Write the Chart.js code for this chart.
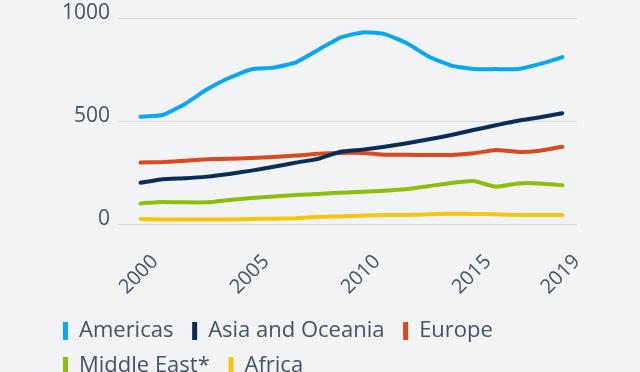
<!DOCTYPE html>
<html>
<head>
<meta charset="utf-8">
<script src="https://cdn.jsdelivr.net/npm/chart.js@4"></script>
<style>
  html, body { margin: 0; padding: 0; background: #f1f3f5; overflow: hidden; }
  #wrap { position: relative; width: 640px; height: 387px; }
</style>
</head>
<body>
<div id="wrap"><canvas id="c"></canvas></div>
<script>
const years = [2000,2001,2002,2003,2004,2005,2006,2007,2008,2009,2010,2011,2012,2013,2014,2015,2016,2017,2018,2019];
const americas = [521,529,583,654,710,751,759,785,845,905,930,922,877,812,769,752,752,752,777,810];
const asiaOceania = [200,217,222,230,243,259,278,298,316,351,361,375,392,411,432,456,479,501,518,538];
const europe = [298,301,307,314,317,320,325,332,341,345,345,336,336,335,335,343,359,350,356,375];
const middleEast = [100,107,105,105,117,126,134,141,146,152,157,162,170,184,199,209,181,197,197,188];
const africa = [24,22,22,22,22,24,26,27,35,37,40,44,44,47,50,49,47,44,44,44];
const seriesNames = ['Americas','Asia and Oceania','Europe','Middle East*','Africa'];
const seriesColors = ['#0aa6f6','#0b2c57','#d94a1e','#8fbd0b','#f5c60c'];
const xTickLabels = [2000,2005,2010,2015,2019];
const yTickLabels = [0,500,1000];

const allSeries = [americas, asiaOceania, europe, middleEast, africa];
const textColor = '#485160';
const yFont = { family: "'Open Sans', sans-serif", size: 21 };
const xFont = { family: "'Open Sans', sans-serif", size: 20 };
const legendFont = { family: "'Open Sans', sans-serif", size: 22 };

new Chart(document.getElementById('c'), {
  type: 'line',
  data: {
    datasets: allSeries.map((vals, i) => ({
      label: seriesNames[i],
      data: vals.map((v, j) => ({ x: years[j], y: v })),
      borderColor: seriesColors[i],
      backgroundColor: seriesColors[i],
      borderWidth: 4,
      borderCapStyle: 'round',
      borderJoinStyle: 'round',
      pointRadius: 0,
      tension: 0.15,
      fill: false
    }))
  },
  options: {
    responsive: true,
    maintainAspectRatio: false,
    animation: false,
    layout: { padding: { left: 50, right: 63, top: 18, bottom: 0 } },
    plugins: {
      tooltip: { enabled: false },
      legend: {
        position: 'bottom',
        align: 'start',
        labels: {
          boxWidth: 5,
          boxHeight: 18,
          padding: 13,
          color: textColor,
          font: legendFont,
          generateLabels(chart) {
            return chart.data.datasets.map((ds, i) => ({
              text: ds.label + ' ',
              fillStyle: ds.borderColor,
              strokeStyle: ds.borderColor,
              lineWidth: 0,
              hidden: false,
              datasetIndex: i,
              fontColor: textColor
            }));
          }
        }
      }
    },
    scales: {
      x: {
        type: 'linear',
        min: 1998.987,
        max: 2019.663,
        grid: { display: false, drawTicks: false },
        border: { display: false },
        afterBuildTicks(scale) { scale.ticks = xTickLabels.map(v => ({ value: v })); },
        afterFit(scale) { scale.height = 83; },
        ticks: {
          color: textColor,
          font: xFont,
          minRotation: 45,
          maxRotation: 45,
          autoSkip: false,
          padding: 26,
          labelOffset: 14.5,
          callback: (v) => String(v)
        }
      },
      y: {
        min: 0,
        max: 1000,
        afterBuildTicks(scale) { scale.ticks = yTickLabels.map(v => ({ value: v })); },
        afterFit(scale) { scale.width = 68; scale.paddingTop = 0; scale.paddingBottom = 0; },
        grid: { color: '#d5d9de', lineWidth: 1, drawTicks: false },
        border: { display: false },
        ticks: {
          color: textColor,
          font: yFont,
          padding: 8,
          labelOffset: -5,
          callback: (v) => String(v)
        }
      }
    }
  }
});
</script>
</body>
</html>
